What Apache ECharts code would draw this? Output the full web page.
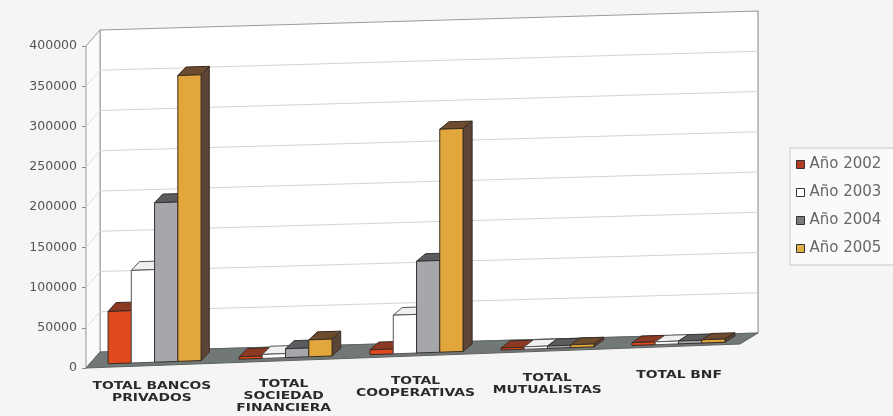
<!DOCTYPE html>
<html>
<head>
<meta charset="utf-8">
<script src="https://cdn.jsdelivr.net/npm/echarts@6/dist/echarts.min.js"></script>
<style>
  html, body { margin: 0; padding: 0; background: #f5f5f3; }
  #chart { width: 893px; height: 416px; }
</style>
</head>
<body>
<div id="chart"></div>
<script>
// Categories and yearly totals
const categories = ['TOTAL BANCOS\nPRIVADOS', 'TOTAL\nSOCIEDAD\nFINANCIERA', 'TOTAL\nCOOPERATIVAS', 'TOTAL\nMUTUALISTAS', 'TOTAL BNF'];
const years = ['Año 2002', 'Año 2003', 'Año 2004', 'Año 2005'];
const v2002 = [65000, 3000, 6000, 2500, 3500];
const v2003 = [115000, 5000, 48000, 3000, 3500];
const v2004 = [198000, 11000, 114000, 3000, 3500];
const v2005 = [355000, 21000, 277000, 3500, 4000];
const yTicks = [0, 50000, 100000, 150000, 200000, 250000, 300000, 350000, 400000];

const seriesValues = [v2002, v2003, v2004, v2005];

// Face colours for each year: front, top, side, outline
const palette = [
  { front: '#df4a1f', top: '#8c3a24', side: '#6b2c1c', line: '#3b2a22', legend: '#b23c26' },
  { front: '#ffffff', top: '#f0f0f0', side: '#e2e2e2', line: '#555555', legend: '#ffffff' },
  { front: '#a7a7ab', top: '#5c5c5e', side: '#4f4f52', line: '#333333', legend: '#7a7a7c' },
  { front: '#e2a73c', top: '#6c4b2f', side: '#5c4436', line: '#3a2c22', legend: '#e0b045' }
];

// Oblique projection: depth d in [0,1] moves a point up and to the right,
// and the whole floor tilts slightly upward towards the right.
const DX0 = 14, DX1 = 4, DY0 = -16, DY1 = 5, DROP = 24;
function project(cs, x, y, d) {
  const t = (x - cs.x) / cs.width;
  return [x + d * (DX0 + DX1 * t), y - DROP * t + d * (DY0 + DY1 * t)];
}
function poly(points, fill, stroke, lw) {
  return {
    type: 'polygon',
    shape: { points: points },
    style: { fill: fill, stroke: stroke, lineWidth: lw === undefined ? 1 : lw }
  };
}

// Walls, floor and gridlines
function renderWalls(params, api) {
  const cs = params.coordSys;
  const xl = cs.x, xr = cs.x + cs.width;
  const yTop = api.coord([0, yTicks[yTicks.length - 1]])[1];
  const y0 = api.coord([0, 0])[1];
  const children = [];
  // back wall
  children.push(poly([project(cs, xl, yTop, 1), project(cs, xr, yTop, 1), project(cs, xr, y0, 1), project(cs, xl, y0, 1)], '#ffffff', '#9a9a9a', 1.2));
  // left wall
  children.push(poly([project(cs, xl, yTop, 0), project(cs, xl, yTop, 1), project(cs, xl, y0, 1), project(cs, xl, y0, 0)], '#fbfbfb', '#9a9a9a', 1));
  // gridlines
  yTicks.forEach(function (tv) {
    if (tv === 0 || tv === yTicks[yTicks.length - 1]) return;
    const yv = api.coord([0, tv])[1];
    const a = project(cs, xl, yv, 1), b = project(cs, xr, yv, 1), c = project(cs, xl, yv, 0);
    children.push({ type: 'line', shape: { x1: a[0], y1: a[1], x2: b[0], y2: b[1] }, style: { stroke: '#d4d4d4', lineWidth: 1 } });
    children.push({ type: 'line', shape: { x1: c[0], y1: c[1], x2: a[0], y2: a[1] }, style: { stroke: '#dcdcdc', lineWidth: 1 } });
  });
  // floor
  children.push(poly([project(cs, xl, y0, 0), project(cs, xr, y0, 0), project(cs, xr, y0, 1), project(cs, xl, y0, 1)], '#717876', '#5d6361', 1));
  return { type: 'group', children: children };
}

// 3D-looking bars
function makeBarRenderer(k) {
  return function (params, api) {
    const cs = params.coordSys;
    const ci = api.value(0), v = api.value(1);
    const catW = api.size([1, 0])[0];
    const bw = catW * 0.71 / 4;
    const base = api.coord([ci, 0]);
    const top = api.coord([ci, v]);
    const x0 = base[0] - 2 * bw + k * bw, x1 = x0 + bw;
    const yb = base[1], yt = top[1];
    const df = 0.22, db = 0.78;
    const c = palette[k];
    const front = [project(cs, x0, yb, df), project(cs, x1, yb, df), project(cs, x1, yt, df), project(cs, x0, yt, df)];
    const topFace = [project(cs, x0, yt, df), project(cs, x1, yt, df), project(cs, x1, yt, db), project(cs, x0, yt, db)];
    const side = [project(cs, x1, yb, df), project(cs, x1, yb, db), project(cs, x1, yt, db), project(cs, x1, yt, df)];
    return {
      type: 'group',
      children: [
        poly(side, c.side, c.line, 1),
        poly(topFace, c.top, c.line, 1),
        poly(front, c.front, c.line, 1)
      ]
    };
  };
}

// Category labels along the tilted front edge (wide, bold lettering)
function renderLabels(params, api) {
  const cs = params.coordSys;
  const ci = api.value(0);
  const p = api.coord([ci, 0]);
  const t = (p[0] - cs.x) / cs.width;
  return {
    type: 'text',
    x: p[0] + 5 * t,
    y: p[1] + 14 - 14 * t,
    scaleX: 1.32,
    style: {
      text: categories[ci],
      fill: '#2a2a2a',
      font: 'bold 10.5px "DejaVu Sans", sans-serif',
      align: 'center',
      verticalAlign: 'top',
      lineHeight: 12
    }
  };
}

const chart = echarts.init(document.getElementById('chart'), null, { renderer: 'canvas' });

const series = [{
  type: 'custom',
  name: 'walls',
  renderItem: renderWalls,
  data: [[0, 0]],
  encode: { x: 0, y: 1 },
  silent: true,
  z: 1,
  clip: false
}];
seriesValues.forEach(function (vals, k) {
  series.push({
    type: 'custom',
    name: years[k],
    renderItem: makeBarRenderer(k),
    data: vals.map(function (v, i) { return [i, v]; }),
    encode: { x: 0, y: 1 },
    itemStyle: { color: palette[k].legend, borderColor: '#333', borderWidth: 1 },
    z: 2,
    clip: false
  });
});
series.push({
  type: 'custom',
  name: 'labels',
  renderItem: renderLabels,
  data: categories.map(function (c, i) { return [i, 0]; }),
  encode: { x: 0, y: 1 },
  silent: true,
  z: 3,
  clip: false
});

chart.setOption({
  backgroundColor: '#f5f5f3',
  animation: false,
  grid: { left: 86, right: 153, top: 46, bottom: 48 },
  xAxis: {
    type: 'category',
    data: categories,
    show: false
  },
  yAxis: {
    type: 'value',
    min: 0,
    max: 400000,
    interval: 50000,
    axisLine: { show: true, lineStyle: { color: '#8a8a8a', width: 1.2 } },
    axisTick: { show: true, length: 4, lineStyle: { color: '#8a8a8a' } },
    axisLabel: {
      color: '#555',
      fontFamily: 'DejaVu Sans',
      fontSize: 12.5,
      margin: 9,
      formatter: function (v) { return String(v); }
    },
    splitLine: { show: false }
  },
  legend: {
    orient: 'vertical',
    left: 790,
    top: 148,
    itemWidth: 8,
    itemHeight: 8,
    itemGap: 13,
    padding: [9, 40, 9, 6],
    backgroundColor: '#fafafa',
    borderColor: '#c8c8c8',
    borderWidth: 1,
    textStyle: { color: '#666', fontFamily: 'DejaVu Sans', fontSize: 15 },
    data: years.map(function (y, k) {
      return { name: y, icon: 'rect', itemStyle: { color: palette[k].legend, borderColor: '#333', borderWidth: 1 } };
    })
  },
  series: series
});
</script>
</body>
</html>
